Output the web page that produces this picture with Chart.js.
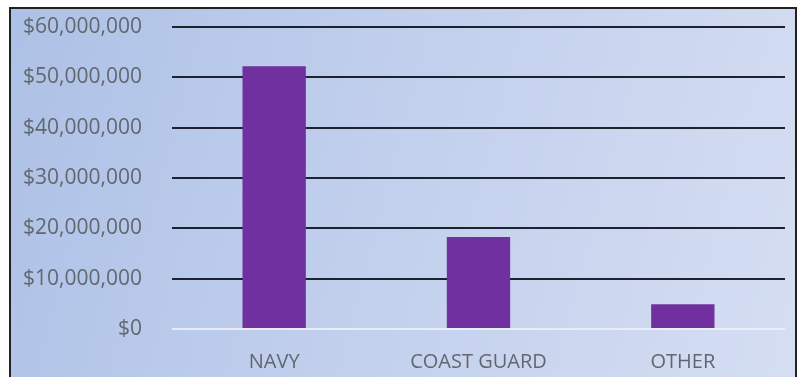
<!DOCTYPE html>
<html>
<head>
<meta charset="utf-8">
<script src="https://cdn.jsdelivr.net/npm/chart.js@4"></script>
<style>
  body { margin: 0; background: #fff; }
  #box {
    position: absolute; left: 9px; top: 7px;
    width: 784px; height: 370px;
    border: 2px solid #222; border-bottom: none;
    background: linear-gradient(105deg, #adc1e6 0%, #c1cfed 45%, #d5def2 100%);
  }
  #box canvas { position: absolute; left: 0; top: 0; }
</style>
</head>
<body>
<div id="box"><canvas id="barChart" width="784" height="368"></canvas></div>
<script>
var categories = ["NAVY", "COAST GUARD", "OTHER"];
var amounts = [52200000, 18300000, 4900000];
var yTicks = [0, 10000000, 20000000, 30000000, 40000000, 50000000, 60000000];

function money(v) {
  return "$" + v.toLocaleString("en-US");
}

var ctx = document.getElementById("barChart");
var myChart = new Chart(ctx, {
  type: "bar",
  data: {
    labels: categories,
    datasets: [{
      data: amounts,
      backgroundColor: "#7030a0",
      barPercentage: 0.62,
      categoryPercentage: 0.5
    }]
  },
  options: {
    responsive: false,
    animation: false,
    layout: { padding: { left: 0, right: 10, top: 18, bottom: 0 } },
    plugins: { legend: { display: false }, tooltip: { enabled: false } },
    scales: {
      x: {
        grid: { display: false, drawTicks: false },
        border: { display: false },
        afterFit: function(scale) { scale.height = 48; },
        ticks: { color: "#62676f", padding: 21, font: { family: "Open Sans", size: 20 } }
      },
      y: {
        min: 0, max: 60000000,
        afterFit: function(scale) { scale.width = 161; },
        afterBuildTicks: function(scale) {
          scale.ticks = yTicks.map(function(v) { return { value: v }; });
        },
        border: { display: false },
        grid: {
          drawTicks: true,
          tickLength: 30,
          tickColor: "rgba(0,0,0,0)",
          lineWidth: 2,
          color: function(c) { return c.tick && c.tick.value === 0 ? "rgba(235,240,250,0.9)" : "#1c2230"; }
        },
        ticks: {
          color: "#62676f", padding: 0,
          font: { family: "Open Sans", size: 21 },
          callback: function(v) { return money(v); }
        }
      }
    }
  }
});
</script>
</body>
</html>
